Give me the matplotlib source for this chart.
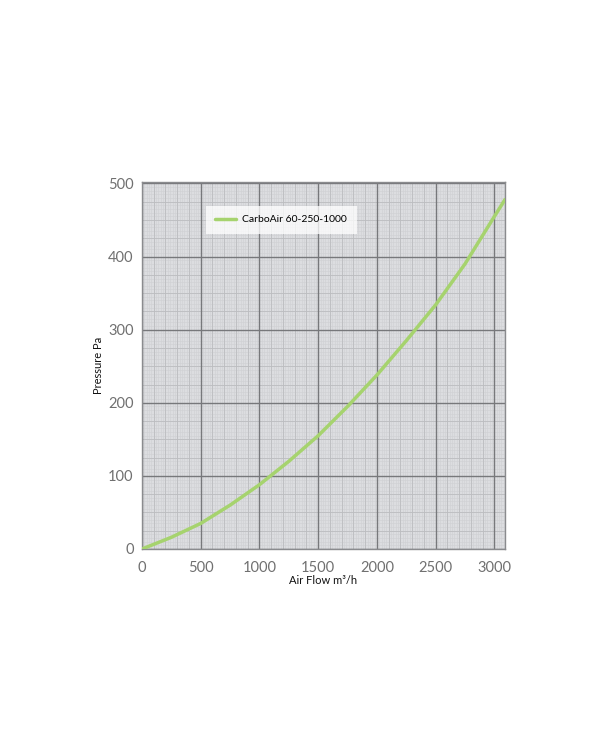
import matplotlib
matplotlib.use("Agg")
import matplotlib.pyplot as plt

plt.rcParams['font.family'] = ['Lato', 'DejaVu Sans']

flow = [0, 250, 500, 750, 1000, 1250, 1500, 1750, 2000, 2250, 2500, 2750, 3000, 3090]
pressure = [0, 16, 35, 60, 88, 120, 155, 195, 238, 285, 334, 390, 455, 478]
series_name = "CarboAir 60-250-1000"
x_ticks = [0, 500, 1000, 1500, 2000, 2500, 3000]
y_ticks = [0, 100, 200, 300, 400, 500]

fig = plt.figure(figsize=(6, 7.45), dpi=100)
ax = fig.add_axes([142/600, 1-549/745, 363/600, 367/745])
ax.set_facecolor('#dcdde0')
ax.set_xlim(0, 3090)
ax.set_ylim(0, 502)

# fine grid
for xv in range(0, 3100, 20):
    ax.axvline(xv, color='#cfd0d3', lw=0.4, zorder=0)
for yv in range(0, 505, 5):
    ax.axhline(yv, color='#cfd0d3', lw=0.4, zorder=0)
# medium grid
for xv in range(0, 3100, 100):
    ax.axvline(xv, color='#bcbdc0', lw=0.6, zorder=0.5)
for yv in range(0, 505, 25):
    ax.axhline(yv, color='#bcbdc0', lw=0.6, zorder=0.5)

ax.set_xticks(x_ticks)
ax.set_yticks(y_ticks)
ax.grid(True, which='major', color='#77787b', lw=1.0, zorder=1)
ax.set_axisbelow(True)

ax.plot(flow, pressure, color='#a6d36e', lw=2.5, zorder=3, label=series_name,
        solid_capstyle='round')

for s in ax.spines.values():
    s.set_color('#8a8b8e')
    s.set_linewidth(1.0)
ax.tick_params(axis='y', length=0, labelsize=10.5, labelcolor='#707070', pad=6)
ax.tick_params(axis='x', length=0, labelsize=10.5, labelcolor='#707070', pad=9)

ax.set_xlabel("Air Flow m³/h", fontsize=8, color='#111111', labelpad=0)
ax.set_ylabel("Pressure Pa", fontsize=8, color='#111111', labelpad=3)

leg = ax.legend(loc='upper left', bbox_to_anchor=(0.162, 0.95), frameon=True,
                fancybox=False, fontsize=7.5, handlelength=2.0, borderpad=0.9,
                handletextpad=0.6)
leg.get_frame().set_facecolor('white')
leg.get_frame().set_alpha(0.75)
leg.get_frame().set_edgecolor('none')
leg.set_zorder(5)

fig.savefig("out.png", dpi=100)
